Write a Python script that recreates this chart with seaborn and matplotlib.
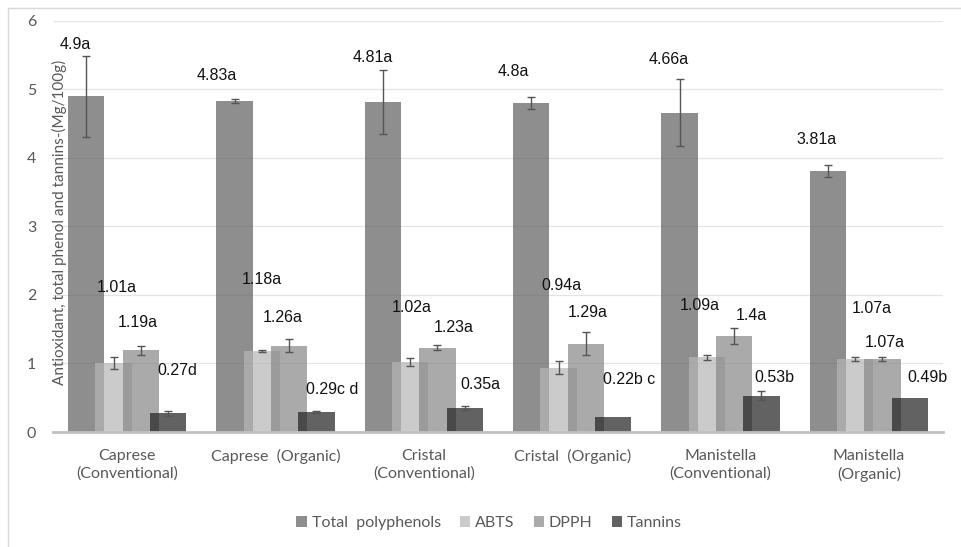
import matplotlib
matplotlib.use("Agg")
import matplotlib.pyplot as plt
from matplotlib.lines import Line2D
import numpy as np
import pandas as pd
import seaborn as sns

# ---- data -------------------------------------------------------------
categories = [
    "Caprese\n(Conventional)",
    "Caprese  (Organic)",
    "Cristal\n(Conventional)",
    "Cristal  (Organic)",
    "Manistella\n(Conventional)",
    "Manistella\n(Organic)",
]
series_names = ["Total  polyphenols", "ABTS", "DPPH", "Tannins"]

total_polyphenols = [4.90, 4.83, 4.81, 4.80, 4.66, 3.81]
abts = [1.01, 1.18, 1.02, 0.94, 1.09, 1.07]
dpph = [1.19, 1.26, 1.23, 1.29, 1.40, 1.07]
tannins = [0.27, 0.29, 0.35, 0.22, 0.53, 0.49]

total_err = [0.59, 0.03, 0.47, 0.09, 0.49, 0.09]
abts_err = [0.09, 0.02, 0.055, 0.10, 0.035, 0.03]
dpph_err = [0.06, 0.10, 0.04, 0.17, 0.11, 0.03]
tannins_err = [0.04, 0.02, 0.035, 0.0, 0.07, 0.0]

# significance letters shown next to each value
total_letters = ["a", "a", "a", "a", "a", "a"]
abts_letters = ["a", "a", "a", "a", "a", "a"]
dpph_letters = ["a", "a", "a", "a", "a", "a"]
tannins_letters = ["d", "c d", "a", "b c", "b", "b"]

y_ticks = [0, 1, 2, 3, 4, 5, 6]

# ---- layout of the value labels (label centre, in data units) -------------
label_dx = [
    [-0.352, -0.394, -0.343, -0.399, -0.347, -0.356],
    [-0.069, -0.091, -0.080, -0.075, -0.138, 0.021],
    [0.073, 0.051, 0.203, 0.107, 0.206, 0.109],
    [0.336, 0.384, 0.379, 0.387, 0.361, 0.392],
]
label_y = [
    [5.65, 5.20, 5.46, 5.26, 5.44, 4.26],
    [2.11, 2.23, 1.82, 2.13, 1.85, 1.80],
    [1.60, 1.67, 1.53, 1.75, 1.70, 1.30],
    [0.90, 0.62, 0.70, 0.76, 0.80, 0.80],
]

colors = ["#5f5f5f", "#b6b6b6", "#878787", "#202020"]
bar_alpha = 0.7
bar_width = 0.246
bar_step = 0.184

values = [total_polyphenols, abts, dpph, tannins]
errors = [total_err, abts_err, dpph_err, tannins_err]
letters = [total_letters, abts_letters, dpph_letters, tannins_letters]

sns.set_style("white")
plt.rcParams["font.family"] = ["Lato", "DejaVu Sans"]

fig = plt.figure(figsize=(9.61, 5.47), dpi=100)
ax = fig.add_axes([53 / 961, 1 - 432 / 547, 890 / 961, (432 - 20.7) / 547])

group_pos = np.arange(len(categories))
for k, name in enumerate(series_names):
    offset = (k - 1.5) * bar_step
    df = pd.DataFrame({"pos": group_pos + offset, "value": values[k],
                       "err": errors[k]})
    sns.barplot(data=df, x="pos", y="value", native_scale=True,
                width=bar_width, color=colors[k], alpha=bar_alpha,
                linewidth=0, errorbar=None, label=name, ax=ax, zorder=2)
    with_err = df[df["err"] > 0]
    ax.errorbar(with_err["pos"], with_err["value"], yerr=with_err["err"],
                fmt="none", ecolor="#555555", elinewidth=1, capsize=2.9,
                capthick=1, zorder=3)
    for i in range(len(categories)):
        v = values[k][i]
        txt = f"{v:g}{letters[k][i]}"
        ax.text(group_pos[i] + label_dx[k][i], label_y[k][i], txt,
                ha="center", va="center", fontsize=11.5,
                family=["Liberation Sans", "DejaVu Sans"], color="#111111",
                zorder=4)

ax.set_xlim(-0.5, len(categories) - 0.5)
ax.set_ylim(0, 6)
ax.set_xticks(group_pos)
ax.set_xticklabels(categories, linespacing=1.35)
ax.set_yticks(y_ticks)
ax.set_xlabel("")
ax.set_ylabel("Antioxidant, total phenol and tannins-(Mg/100g)",
              fontsize=11, color="#595959", va="center")
ax.yaxis.set_label_coords((59 - 53) / 890, (432 - 222) / 411.3)

ax.tick_params(axis="both", length=0, labelsize=11.5, labelcolor="#595959")
ax.tick_params(axis="y", pad=12)
ax.tick_params(axis="x", pad=12)

ax.set_axisbelow(True)
ax.yaxis.grid(True, color="#e4e4e4", linewidth=0.9)
ax.xaxis.grid(False)
for side in ["top", "right", "left"]:
    ax.spines[side].set_visible(False)
ax.spines["bottom"].set_color("#c0c0c0")
ax.spines["bottom"].set_linewidth(2)

handles, labels = ax.get_legend_handles_labels()
if ax.get_legend() is not None:
    ax.get_legend().remove()
fig.legend(handles, labels, loc="center", bbox_to_anchor=(0.509, 1 - 523 / 547),
           ncol=4, frameon=False, fontsize=11.5, labelcolor="#595959",
           handlelength=0.65, handleheight=0.65, handletextpad=0.3,
           columnspacing=1.2)

# thin frame lines along the top and left of the chart area
fig.add_artist(Line2D([8 / 961, 8 / 961], [0, 1 - 8 / 547],
                      transform=fig.transFigure, color="#d9d9d9", lw=1))
fig.add_artist(Line2D([8 / 961, 1], [1 - 8 / 547, 1 - 8 / 547],
                      transform=fig.transFigure, color="#d9d9d9", lw=1))

fig.savefig("out.png", dpi=100)
